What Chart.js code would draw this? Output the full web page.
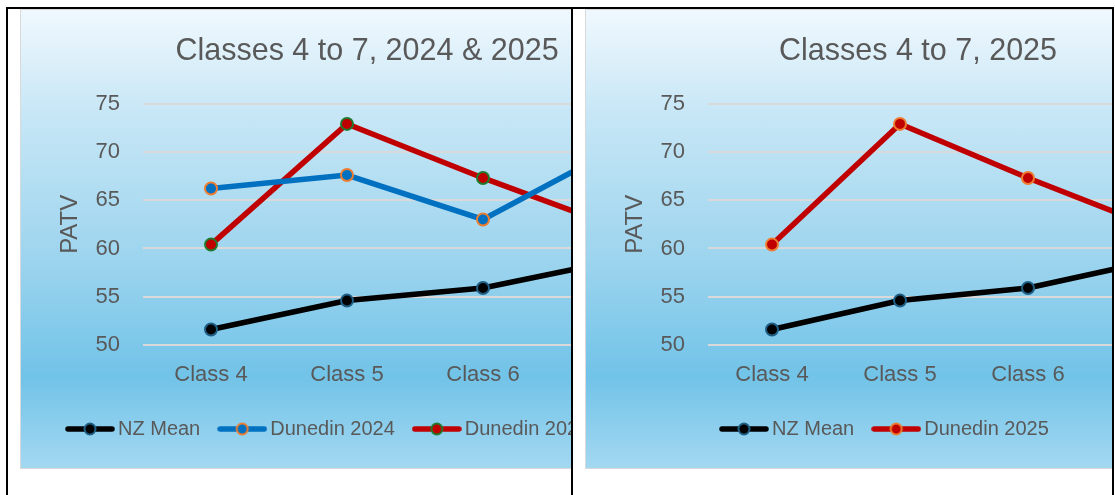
<!DOCTYPE html>
<html lang="en">
<head>
<meta charset="UTF-8">
<title>PATV Classes 4 to 7</title>
<script src="https://cdn.jsdelivr.net/npm/chart.js"></script>
<style>
  body { margin: 0; background: #fff; width: 1115px; height: 495px; position: relative; overflow: hidden; }
  .linha { position: absolute; background: #000; }
  .recorte { position: absolute; top: 9px; height: 460px; overflow: hidden; }
  .painel {
    box-sizing: border-box; height: 460px; border: 1px solid #d9d9d9;
    background: linear-gradient(to bottom, #f0f8fe 0%, #c8e7f6 22%, #9cd4ee 55%, #71c3e8 80%, #a3d8f1 100%);
  }
  canvas { display: block; }
</style>
</head>
<body>

<div class="recorte" style="left:20px; width:551px;">
  <div class="painel" style="width:694px;">
    <canvas id="grafico1" width="692" height="458"></canvas>
  </div>
</div>

<div class="recorte" style="left:585px; width:527px;">
  <div class="painel" style="width:666px;">
    <canvas id="grafico2" width="664" height="458"></canvas>
  </div>
</div>

<div class="linha" style="left:6px; top:7px; width:1108px; height:2px;"></div>
<div class="linha" style="left:6px; top:7px; width:2px; height:488px;"></div>
<div class="linha" style="left:571px; top:7px; width:2px; height:488px;"></div>
<div class="linha" style="left:1112px; top:7px; width:2px; height:488px;"></div>

<script>
// data (Class 7 is cut off by the frame)
const classes = ['Class 4', 'Class 5', 'Class 6', 'Class 7'];
const nzMean = [51.6, 54.6, 55.9, 58.8];
const dunedin2024 = [66.2, 67.6, 63.0, 70.5];
const dunedin2025 = [60.4, 72.9, 67.3, 62.1];
const yTicks = [50, 55, 60, 65, 70, 75];

const fonte = "'Liberation Sans', Arial, sans-serif";
const cinza = '#595959';

// line + marker icon for the legend
function iconeLegenda(cor, preenchimento, borda) {
    const c = document.createElement('canvas');
    c.width = 50;
    c.height = 16;
    const ctx = c.getContext('2d');
    ctx.strokeStyle = cor;
    ctx.lineWidth = 5.5;
    ctx.lineCap = 'round';
    ctx.beginPath();
    ctx.moveTo(3, 8);
    ctx.lineTo(47, 8);
    ctx.stroke();
    ctx.beginPath();
    ctx.arc(25, 8, 5.5, 0, Math.PI * 2);
    ctx.fillStyle = preenchimento;
    ctx.fill();
    ctx.lineWidth = 2;
    ctx.strokeStyle = borda;
    ctx.stroke();
    return c;
}

function serie(nome, valores, cor, borda) {
    return {
        label: nome,
        data: valores,
        borderColor: cor,
        backgroundColor: cor,
        borderWidth: 5.5,
        tension: 0,
        pointRadius: 6,
        pointBorderWidth: 2,
        pointBackgroundColor: cor,
        pointBorderColor: borda,
        icone: iconeLegenda(cor, cor, borda)
    };
}

// legend row starts at a given x, title centred on the whole canvas
const posicaoLegenda = {
    id: 'posicaoLegenda',
    afterLayout(chart, args, opts) {
        const leg = chart.legend;
        const pad = leg.options.labels.padding;
        leg.left = opts.x - pad;
        leg.right = leg.left + 3000;
        chart.titleBlock.left = 0;
        chart.titleBlock.right = chart.width;
    }
};

function criarGrafico(id, titulo, datasets, legendaX, direita) {
    const config = {
        type: 'line',
        data: { labels: classes, datasets: datasets },
        plugins: [posicaoLegenda],
        options: {
            responsive: false,
            animation: false,
            layout: { padding: { left: 0, right: direita, top: 0, bottom: 19 } },
            plugins: {
                title: {
                    display: true,
                    text: titulo,
                    color: cinza,
                    font: { family: fonte, size: 30.5, weight: 'normal' },
                    padding: { top: 23, bottom: 34 }
                },
                legend: {
                    position: 'bottom',
                    align: 'start',
                    labels: {
                        usePointStyle: true,
                        pointStyleWidth: 36,
                        padding: 24,
                        color: cinza,
                        font: { family: fonte, size: 20 },
                        generateLabels(chart) {
                            const itens = Chart.defaults.plugins.legend.labels.generateLabels(chart);
                            itens.forEach((it, i) => { it.pointStyle = chart.data.datasets[i].icone; });
                            return itens;
                        }
                    }
                },
                tooltip: { enabled: false },
                posicaoLegenda: { x: legendaX }
            },
            scales: {
                x: {
                    offset: true,
                    grid: { display: false, drawTicks: false },
                    border: { display: false },
                    ticks: { color: cinza, padding: 17, font: { family: fonte, size: 22 } },
                    afterFit(scale) { scale.height = 50; }
                },
                y: {
                    min: 50,
                    max: 75,
                    afterBuildTicks(scale) { scale.ticks = yTicks.map(v => ({ value: v })); },
                    grid: { color: '#d9d9d9', lineWidth: 2, drawTicks: false },
                    border: { display: false },
                    ticks: { color: cinza, padding: 23, font: { family: fonte, size: 22 } },
                    title: {
                        display: true,
                        text: 'PATV',
                        color: cinza,
                        font: { family: fonte, size: 24 },
                        padding: { top: 35, bottom: 0 }
                    },
                    afterFit(scale) { scale.width = 122; }
                }
            }
        }
    };
    return new Chart(document.getElementById(id), config);
}

criarGrafico('grafico1', 'Classes 4 to 7, 2024 & 2025', [
    serie('NZ Mean', nzMean, '#000000', '#1f5f85'),
    serie('Dunedin 2024', dunedin2024, '#0070c0', '#ed7d31'),
    serie('Dunedin 2025', dunedin2025, '#c00000', '#217a2e')
], 51, 26);

criarGrafico('grafico2', 'Classes 4 to 7, 2025', [
    serie('NZ Mean', nzMean, '#000000', '#1f5f85'),
    serie('Dunedin 2025', dunedin2025, '#c00000', '#ed7d31')
], 140, 30);
</script>
</body>
</html>
